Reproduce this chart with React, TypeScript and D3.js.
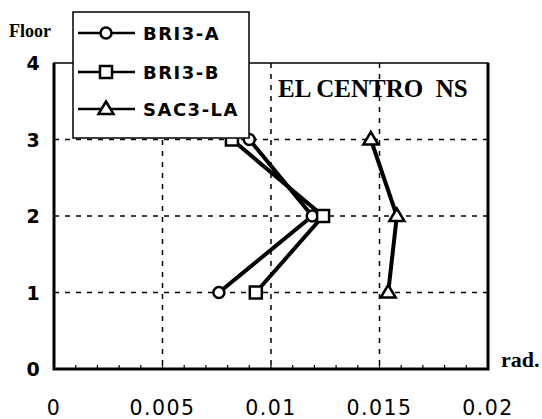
import React, { useEffect, useRef } from 'react';
import * as d3 from 'd3';

// floors (y) and drift angles (x, rad.)
const floors = [1, 2, 3];
const bri3A = [0.0076, 0.0119, 0.009];
const bri3B = [0.0093, 0.0124, 0.0082];
const sac3LA = [0.0154, 0.0158, 0.0146];
const seriesNames = ['BRI3-A', 'BRI3-B', 'SAC3-LA'];
const seriesMarkers = ['circle', 'square', 'triangle'];
const xTicks = [0, 0.005, 0.01, 0.015, 0.02];
const xTickLabels = ['0', '0.005', '0.01', '0.015', '0.02'];
const yTicks = [0, 1, 2, 3, 4];

const SERIF = '"Liberation Serif", "DejaVu Serif", Times, serif';
const SANS = '"DejaVu Sans", Verdana, sans-serif';

const App = () => {
  const ref = useRef<SVGSVGElement>(null);

  useEffect(() => {
    const svg = d3.select(ref.current);
    svg.selectAll('*').remove();

    const x = d3.scaleLinear().domain([0, 0.02]).range([54, 488]);
    const y = d3.scaleLinear().domain([0, 4]).range([369, 63]);

    // dashed grid
    svg.append('g')
      .selectAll('line')
      .data(xTicks.slice(1, -1))
      .join('line')
      .attr('x1', d => x(d)).attr('x2', d => x(d))
      .attr('y1', y(4)).attr('y2', y(0))
      .attr('stroke', '#000').attr('stroke-width', 1.5).attr('stroke-dasharray', '5,6');
    svg.append('g')
      .selectAll('line')
      .data(yTicks.slice(1, -1))
      .join('line')
      .attr('x1', x(0)).attr('x2', x(0.02))
      .attr('y1', d => y(d)).attr('y2', d => y(d))
      .attr('stroke', '#000').attr('stroke-width', 1.5).attr('stroke-dasharray', '5,6');

    // minor ticks on bottom axis
    svg.append('g')
      .selectAll('line')
      .data(d3.range(1, 20).map(i => i * 0.001))
      .join('line')
      .attr('x1', d => x(d)).attr('x2', d => x(d))
      .attr('y1', y(0)).attr('y2', y(0) - 4)
      .attr('stroke', '#000').attr('stroke-width', 1.2);

    // frame
    svg.append('rect')
      .attr('x', x(0)).attr('y', y(4))
      .attr('width', x(0.02) - x(0)).attr('height', y(0) - y(4))
      .attr('fill', 'none').attr('stroke', '#000').attr('stroke-width', 1.5);
    svg.append('path')
      .attr('d', `M${x(0)},${y(4)}V${y(0)}H${x(0.02)}V${y(4)}`)
      .attr('fill', 'none').attr('stroke', '#000').attr('stroke-width', 3);

    // axis labels
    svg.append('g')
      .selectAll('text')
      .data(xTicks)
      .join('text')
      .attr('x', d => x(d)).attr('y', 415)
      .attr('text-anchor', 'middle')
      .attr('font-family', SANS)
      .attr('font-size', 20.5)
      .attr('letter-spacing', 1.5)
      .text((d, i) => xTickLabels[i]);
    svg.append('g')
      .selectAll('text')
      .data(yTicks)
      .join('text')
      .attr('x', 33).attr('y', d => y(d) + 7)
      .attr('text-anchor', 'middle')
      .attr('font-family', SANS)
      .attr('font-weight', 'bold')
      .attr('font-size', 19)
      .text(d => d);
    svg.append('text')
      .attr('x', 9).attr('y', 37)
      .attr('font-family', SERIF).attr('font-weight', 'bold').attr('font-size', 18)
      .text('Floor');
    svg.append('text')
      .attr('x', 501).attr('y', 367)
      .attr('font-family', SERIF).attr('font-weight', 'bold').attr('font-size', 22)
      .text('rad.');
    svg.append('text')
      .attr('x', 278).attr('y', 97)
      .attr('font-family', SERIF).attr('font-weight', 'bold').attr('font-size', 25)
      .attr('xml:space', 'preserve')
      .style('white-space', 'pre')
      .text('EL CENTRO  NS');

    const drawMarker = (g: any, kind: string, cx: number, cy: number) => {
      if (kind === 'circle') {
        g.append('circle').attr('cx', cx).attr('cy', cy).attr('r', 5.5)
          .attr('fill', '#fff').attr('stroke', '#000').attr('stroke-width', 2.5);
      } else if (kind === 'square') {
        g.append('rect').attr('x', cx - 6).attr('y', cy - 6).attr('width', 12).attr('height', 12)
          .attr('fill', '#fff').attr('stroke', '#000').attr('stroke-width', 2.5);
      } else {
        g.append('path')
          .attr('d', `M${cx},${cy - 7.5}L${cx + 7.5},${cy + 5}L${cx - 7.5},${cy + 5}Z`)
          .attr('fill', '#fff').attr('stroke', '#000').attr('stroke-width', 2.5);
      }
    };

    const line = d3.line<number>().x(d => x(d)).y((d, i) => y(floors[i]));
    const allSeries = [bri3A, bri3B, sac3LA];
    allSeries.forEach((vals, s) => {
      const g = svg.append('g');
      g.append('path').attr('d', line(vals))
        .attr('fill', 'none').attr('stroke', '#000').attr('stroke-width', 4);
      vals.forEach((v, i) => drawMarker(g, seriesMarkers[s], x(v), y(floors[i])));
    });

    // legend
    const lg = svg.append('g');
    lg.append('rect').attr('x', 73).attr('y', 12).attr('width', 176).attr('height', 126)
      .attr('fill', '#fff').attr('stroke', '#000').attr('stroke-width', 1.5);
    const rowY = [33, 72, 109];
    seriesNames.forEach((name, i) => {
      lg.append('line').attr('x1', 78).attr('x2', 135).attr('y1', rowY[i]).attr('y2', rowY[i])
        .attr('stroke', '#000').attr('stroke-width', 2.5);
      drawMarker(lg, seriesMarkers[i], 106, rowY[i]);
      lg.append('text').attr('x', 143).attr('y', rowY[i] + 7)
        .attr('font-family', SANS).attr('font-weight', 'bold').attr('font-size', 18)
        .attr('letter-spacing', 1.5)
        .text(name);
    });
  }, []);

  return (
    <svg ref={ref} width={542} height={419}
      style={{ position: 'absolute', left: 0, top: 0, background: '#fff' }} />
  );
};

export default App;
